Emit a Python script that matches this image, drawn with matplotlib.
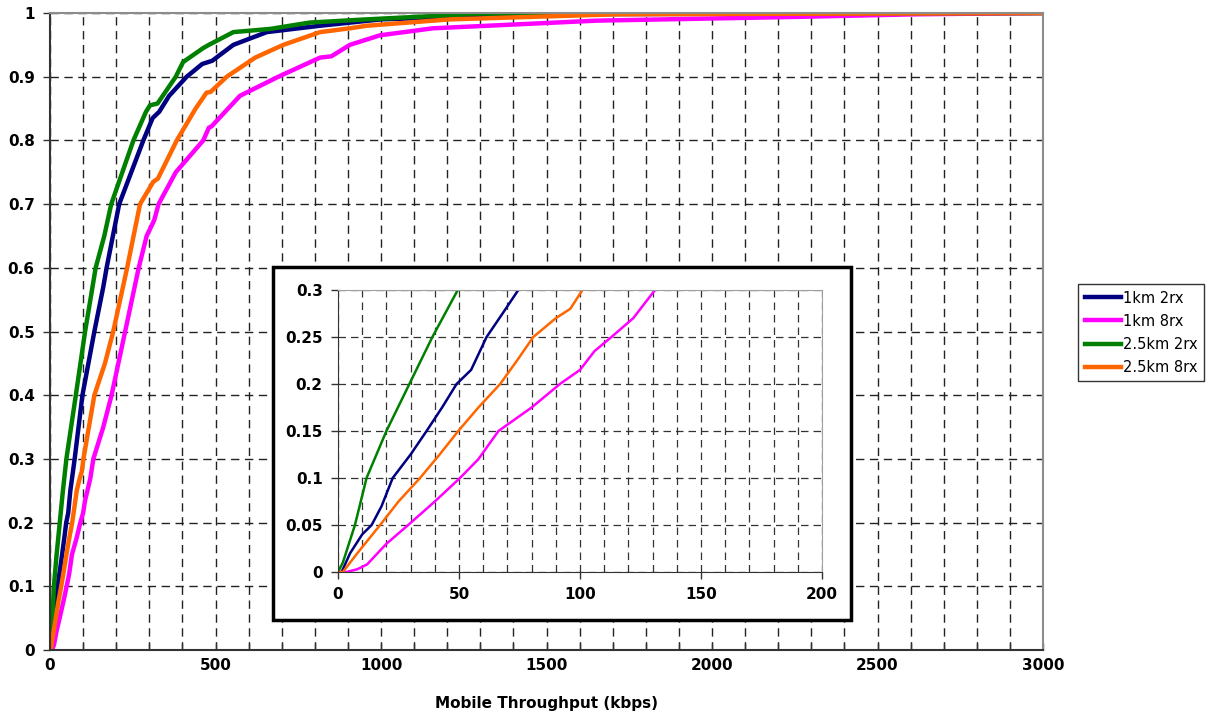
import matplotlib
matplotlib.use("Agg")
import matplotlib.pyplot as plt
from matplotlib.patches import Rectangle
from matplotlib.ticker import MultipleLocator

plt.rcParams['font.family'] = ['DejaVu Sans']

# ---- data (kbps, CDF) ----
names = ["1km 2rx", "1km 8rx", "2.5km 2rx", "2.5km 8rx"]
colors = ["#000080", "#FF00FF", "#008000", "#FF6600"]

blue_x = [0, 1.5, 5, 10, 13.9, 18, 22.6, 30, 36.6, 43, 49, 55, 61.4, 68, 74.5,
          98, 134, 161, 171, 209, 282, 310, 330, 360, 413, 460, 490, 554, 655,
          816, 1000, 1500, 3000]
blue_y = [0, 0, 0.02, 0.04, 0.05, 0.07, 0.1, 0.125, 0.15, 0.175, 0.2, 0.215, 0.25,
          0.275, 0.3, 0.4, 0.5, 0.57, 0.6, 0.7, 0.8, 0.835, 0.845, 0.87, 0.9, 0.92,
          0.925, 0.95, 0.97, 0.98, 0.99, 0.998, 1.0]

magenta_x = [0, 3.6, 8, 12, 20, 29, 40, 50.4, 58, 66.3, 80, 91.7, 100, 106, 113,
             122, 131, 161, 186, 227, 268, 292, 306, 315, 328, 380, 463, 480, 488,
             574, 690, 816, 850, 906, 997, 1157, 1652, 2266, 2620, 3000]
magenta_y = [0, 0, 0.003, 0.008, 0.03, 0.05, 0.075, 0.1, 0.12, 0.15, 0.175, 0.2,
             0.215, 0.235, 0.25, 0.27, 0.3, 0.35, 0.4, 0.5, 0.6, 0.65, 0.665, 0.675,
             0.7, 0.75, 0.8, 0.82, 0.822, 0.87, 0.9, 0.93, 0.932, 0.95, 0.965, 0.976,
             0.988, 0.994, 0.998, 1.0]

green_x = [0, 2, 7, 11.8, 20, 29.5, 39, 49.5, 78, 106, 138, 164, 185, 252, 290,
           302, 325, 380, 402, 463, 480, 554, 665, 785, 957, 1300, 3000]
green_y = [0, 0.01, 0.05, 0.1, 0.15, 0.2, 0.25, 0.3, 0.4, 0.5, 0.6, 0.65, 0.7,
           0.8, 0.845, 0.855, 0.858, 0.9, 0.923, 0.945, 0.95, 0.97, 0.975, 0.985,
           0.99, 0.999, 1.0]

orange_x = [0, 2, 8, 17.4, 25, 33.9, 42, 49.7, 58, 67, 74, 80.7, 90, 96, 101,
            134, 166, 191, 233, 272, 312, 326, 383, 440, 473, 485, 534, 620, 705,
            816, 906, 957, 1208, 1712, 3000]
orange_y = [0, 0, 0.02, 0.05, 0.075, 0.1, 0.125, 0.15, 0.175, 0.2, 0.225, 0.25,
            0.27, 0.28, 0.3, 0.4, 0.45, 0.5, 0.6, 0.7, 0.735, 0.74, 0.8, 0.85,
            0.875, 0.876, 0.9, 0.93, 0.95, 0.97, 0.976, 0.98, 0.99, 0.998, 1.0]

series = [(blue_x, blue_y), (magenta_x, magenta_y), (green_x, green_y), (orange_x, orange_y)]

fig = plt.figure(figsize=(12.19, 7.15), dpi=100)

# ---- main axes ----
ax = fig.add_axes([50/1219, 65/715, 993/1219, 637/715])
for (xs, ys), c, n in zip(series, colors, names):
    ax.plot(xs, ys, color=c, lw=3.2, label=n, solid_joinstyle='round')
ax.set_xlim(0, 3000)
ax.set_ylim(0, 1)
ax.xaxis.set_major_locator(MultipleLocator(500))
ax.xaxis.set_minor_locator(MultipleLocator(100))
ax.set_yticks([i/10 for i in range(11)])
ax.set_yticklabels([("0" if i == 0 else ("1" if i == 10 else f"0.{i}")) for i in range(11)])
ax.grid(True, which='major', axis='y', color='#222222', lw=1.0, ls=(0, (6, 4)))
ax.grid(True, which='both', axis='x', color='#222222', lw=1.0, ls=(0, (6, 4)))
ax.tick_params(axis='x', which='both', direction='in', length=5, width=1, color='#333333')
ax.tick_params(axis='y', which='major', direction='out', length=5, width=1, color='#333333')
ax.tick_params(axis='both', labelsize=11, pad=6)
for lab in ax.get_xticklabels() + ax.get_yticklabels():
    lab.set_fontweight('bold')
ax.spines['left'].set_color('#333333')
ax.spines['bottom'].set_color('#333333')
ax.spines['left'].set_linewidth(1.5)
ax.spines['bottom'].set_linewidth(1.5)
ax.spines['top'].set_color('#8c8c8c')
ax.spines['right'].set_color('#8c8c8c')
ax.spines['top'].set_linewidth(1.5)
ax.spines['right'].set_linewidth(1.5)
ax.set_xlabel("Mobile Throughput (kbps)", fontsize=11, fontweight='bold', labelpad=16)

# ---- legend ----
fig.legend(*ax.get_legend_handles_labels(), loc='upper left',
           bbox_to_anchor=(1078/1219, 1 - 284/715), fontsize=10.5, frameon=True,
           fancybox=False, edgecolor='black', handlelength=2.5, handletextpad=0.15,
           labelspacing=0.55, borderpad=0.45, borderaxespad=0)
leg = fig.legends[0]
leg.get_frame().set_linewidth(1.0)
for line in leg.get_lines():
    line.set_linewidth(3.2)

# ---- inset box ----
box = Rectangle((273/1219, 95/715), 578/1219, 353/715, transform=fig.transFigure,
                facecolor='white', edgecolor='black', lw=2.5, zorder=5)
fig.patches.append(box)

ins = fig.add_axes([338/1219, 143/715, 484/1219, 282/715], zorder=6)
for (xs, ys), c in zip(series, colors):
    ins.plot(xs, ys, color=c, lw=1.8)
ins.set_xlim(0, 200)
ins.set_ylim(0, 0.3)
ins.xaxis.set_major_locator(MultipleLocator(50))
ins.xaxis.set_minor_locator(MultipleLocator(10))
ins.set_yticks([0, 0.05, 0.1, 0.15, 0.2, 0.25, 0.3])
ins.set_yticklabels(["0", "0.05", "0.1", "0.15", "0.2", "0.25", "0.3"])
ins.grid(True, which='major', axis='y', color='#333333', lw=0.9, ls=(0, (6, 4)))
ins.grid(True, which='both', axis='x', color='#333333', lw=0.9, ls=(0, (6, 4)))
ins.tick_params(axis='x', which='major', direction='out', length=5, width=1, color='#333333')
ins.tick_params(axis='x', which='minor', length=0)
ins.tick_params(axis='y', which='major', direction='out', length=5, width=1, color='#333333')
ins.tick_params(axis='both', labelsize=11, pad=6)
for lab in ins.get_xticklabels() + ins.get_yticklabels():
    lab.set_fontweight('bold')
ins.spines['left'].set_color('#333333')
ins.spines['bottom'].set_color('#333333')
ins.spines['top'].set_color('#a0a0a0')
ins.spines['right'].set_color('#a0a0a0')

fig.savefig("out.png", dpi=100)
